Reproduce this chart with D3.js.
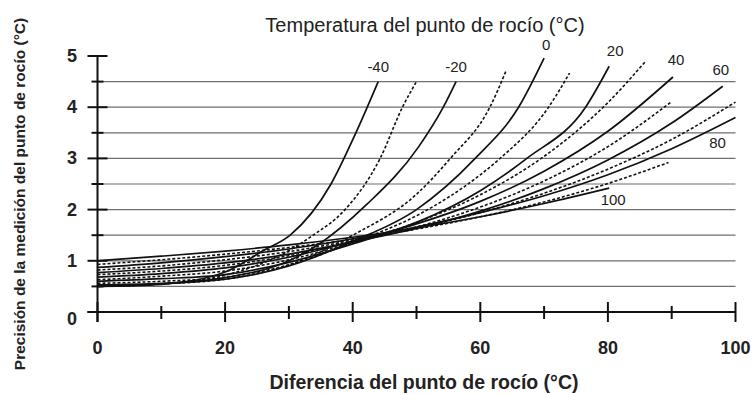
<!DOCTYPE html>
<html>
  <head>
    <meta charset="utf-8">
    <title>Precisión del punto de rocío</title>
    <style>
      html, body { margin: 0; padding: 0; background: #fff; }
      svg { display: block; font-family: "Liberation Sans", Arial, sans-serif; }
    </style>
  </head>
  <body>
    <script src="https://cdn.jsdelivr.net/npm/d3@7"></script>
    <div id="chart"></div>
    <script>

      // Dew point temperatures (one curve each), solid every 20, dashed in between
      var dewPoints = [-40, -30, -20, -10, 0, 10, 20, 30, 40, 50, 60, 70, 80, 90, 100]
      var labelTemps = [-40, -20, 0, 20, 40, 60, 80, 100]

      // [dew point difference, accuracy]
      var tdM40 = [[0,0.50],[10,0.54],[20,0.78],[26,1.2],[30.2,1.5],[36.6,2.5],[40.5,3.5],[44,4.5]]
      var tdM30 = [[0,0.50],[10,0.55],[20,0.72],[30,1.2],[33.8,1.5],[38.8,2.0],[44.3,3.0],[47.8,4.0],[50,4.5]]
      var tdM20 = [[0,0.50],[10,0.55],[20,0.67],[30,1.0],[34.4,1.3],[42.2,2.1],[50.3,3.22],[54.2,4.0],[56.2,4.5]]
      var tdM10 = [[0,0.51],[10,0.55],[20,0.64],[30,0.92],[40,1.5],[50,2.3],[55.3,3.0],[61.5,4.0],[64,4.7]]
      var td0   = [[0,0.53],[10,0.56],[20,0.64],[30,0.9],[40,1.38],[50,2.0],[59.2,3.0],[66,4.0],[70,4.96]]
      var td10  = [[0,0.56],[10,0.6],[20,0.68],[30,0.92],[40,1.36],[50,1.88],[60,2.68],[63.1,3.0],[70.7,4.0],[74,4.67]]
      var td20  = [[0,0.6],[10,0.65],[20,0.73],[30,0.97],[40,1.33],[50,1.75],[60,2.37],[67.3,3.0],[76.5,4.0],[80.2,4.8]]
      var td30  = [[0,0.63],[10,0.7],[20,0.8],[30,1.02],[40,1.36],[50,1.75],[60,2.29],[70,3.04],[80,4.09],[85.8,4.88]]
      var td40  = [[0,0.68],[10,0.75],[20,0.86],[30,1.07],[40,1.38],[50,1.72],[60,2.16],[70,2.75],[80,3.53],[90.2,4.59]]
      var td50  = [[0,0.73],[10,0.8],[20,0.91],[30,1.1],[40,1.37],[50,1.66],[60,2.05],[70,2.56],[80,3.23],[89.8,4.09]]
      var td60  = [[0,0.77],[10,0.85],[20,0.96],[30,1.13],[40,1.37],[50,1.63],[60,1.97],[70,2.41],[80,2.97],[90,3.69],[98,4.41]]
      var td70  = [[0,0.82],[10,0.9],[20,1.02],[30,1.18],[40,1.4],[50,1.64],[60,1.94],[70,2.32],[80,2.79],[90,3.37],[100,4.1]]
      var td80  = [[0,0.87],[10,0.96],[20,1.08],[30,1.23],[40,1.43],[50,1.66],[60,1.94],[70,2.27],[80,2.68],[90,3.19],[100,3.8]]
      var td90  = [[0,0.93],[10,1.02],[20,1.13],[30,1.26],[40,1.42],[50,1.62],[60,1.86],[70,2.15],[80,2.51],[89.5,2.92]]
      var td100 = [[0,1.0],[10,1.09],[20,1.19],[30,1.31],[40,1.46],[50,1.64],[60,1.86],[70,2.12],[80.2,2.42]]

      var curves = [tdM40, tdM30, tdM20, tdM10, td0, td10, td20, td30, td40, td50, td60, td70, td80, td90, td100]

      // Axis ticks
      var xMajor = [0, 20, 40, 60, 80, 100]
      var xMinor = [10, 30, 50, 70, 90]
      var yMajor = [0, 1, 2, 3, 4, 5]
      var gridVals = [0.5, 1, 1.5, 2, 2.5, 3, 3.5, 4, 4.5]

      var svg = d3.select("#chart")
        .append("svg")
        .attr("width", 752)
        .attr("height", 394)

      var x = d3.scaleLinear().domain([0, 100]).range([97.5, 735.5])
      var y = d3.scaleLinear().domain([0, 5]).range([312, 56])

      // Grid lines
      svg.append("g")
        .selectAll("line")
        .data(gridVals)
        .enter()
        .append("line")
        .attr("x1", x(0))
        .attr("x2", x(100))
        .attr("y1", function(d) { return y(d) })
        .attr("y2", function(d) { return y(d) })
        .attr("stroke", "#6f6f6f")
        .attr("stroke-width", 1.2)

      // Curves
      var line = d3.line()
        .x(function(d) { return x(d[0]) })
        .y(function(d) { return y(d[1]) })
        .curve(d3.curveMonotoneX)

      svg.append("g")
        .selectAll("path")
        .data(curves)
        .enter()
        .append("path")
        .attr("d", line)
        .attr("fill", "none")
        .attr("stroke", "#111")
        .attr("stroke-width", function(d, i) { return dewPoints[i] % 20 == 0 ? 1.7 : 1.6 })
        .attr("stroke-dasharray", function(d, i) { return dewPoints[i] % 20 == 0 ? null : "3,2" })

      // Curve labels, placed near the end of their curve
      var labelOffset = {"-40": [0, -10], "-20": [0, -10], "0": [2, -8], "20": [6, -10], "40": [3, -12],
                         "60": [-2, -11], "80": [-18, 31], "100": [4, 17]}

      svg.append("g")
        .selectAll("text")
        .data(labelTemps)
        .enter()
        .append("text")
        .attr("x", function(d) {
          var c = curves[dewPoints.indexOf(d)]
          return x(c[c.length - 1][0]) + labelOffset[d][0]
        })
        .attr("y", function(d) {
          var c = curves[dewPoints.indexOf(d)]
          return y(c[c.length - 1][1]) + labelOffset[d][1]
        })
        .attr("text-anchor", "middle")
        .style("font-size", "15px")
        .style("fill", "#222")
        .text(function(d) { return d })

      // Axes lines
      svg.append("line")
        .attr("x1", x(0)).attr("x2", x(0))
        .attr("y1", y(5)).attr("y2", y(0) + 10)
        .attr("stroke", "#111").attr("stroke-width", 2)

      svg.append("line")
        .attr("x1", x(0) - 10).attr("x2", x(100))
        .attr("y1", y(0)).attr("y2", y(0))
        .attr("stroke", "#111").attr("stroke-width", 2)

      // Y ticks
      svg.append("g")
        .selectAll("line")
        .data(yMajor)
        .enter()
        .append("line")
        .attr("x1", x(0) - 10).attr("x2", x(0) + 10)
        .attr("y1", function(d) { return y(d) }).attr("y2", function(d) { return y(d) })
        .attr("stroke", "#111").attr("stroke-width", 2)

      svg.append("g")
        .selectAll("line")
        .data(gridVals.filter(function(d) { return d % 1 != 0 }))
        .enter()
        .append("line")
        .attr("x1", x(0) - 6).attr("x2", x(0) + 6)
        .attr("y1", function(d) { return y(d) }).attr("y2", function(d) { return y(d) })
        .attr("stroke", "#111").attr("stroke-width", 2)

      // X ticks
      svg.append("g")
        .selectAll("line")
        .data(xMajor)
        .enter()
        .append("line")
        .attr("x1", function(d) { return x(d) }).attr("x2", function(d) { return x(d) })
        .attr("y1", y(0) - 10).attr("y2", y(0) + 10)
        .attr("stroke", "#111").attr("stroke-width", 2)

      svg.append("g")
        .selectAll("line")
        .data(xMinor)
        .enter()
        .append("line")
        .attr("x1", function(d) { return x(d) }).attr("x2", function(d) { return x(d) })
        .attr("y1", y(0) - 6).attr("y2", y(0) + 7)
        .attr("stroke", "#111").attr("stroke-width", 2)

      // Tick labels
      svg.append("g")
        .selectAll("text")
        .data(yMajor)
        .enter()
        .append("text")
        .attr("x", 72)
        .attr("y", function(d) { return d == 0 ? y(d) + 13 : y(d) + 6 })
        .attr("text-anchor", "middle")
        .style("font-size", "18px")
        .style("font-weight", "bold")
        .style("fill", "#222")
        .text(function(d) { return d })

      svg.append("g")
        .selectAll("text")
        .data(xMajor)
        .enter()
        .append("text")
        .attr("x", function(d) { return x(d) })
        .attr("y", 354)
        .attr("text-anchor", "middle")
        .style("font-size", "18px")
        .style("font-weight", "bold")
        .style("fill", "#222")
        .text(function(d) { return d })

      // Titles
      svg.append("text")
        .attr("x", 425)
        .attr("y", 32)
        .attr("text-anchor", "middle")
        .style("font-size", "20px")
        .style("fill", "#222")
        .text("Temperatura del punto de rocío (°C)")

      svg.append("text")
        .attr("x", 424)
        .attr("y", 389)
        .attr("text-anchor", "middle")
        .style("font-size", "19.5px")
        .style("font-weight", "bold")
        .style("fill", "#222")
        .text("Diferencia del punto de rocío (°C)")

      svg.append("text")
        .attr("transform", "translate(25, 194) rotate(-90)")
        .attr("text-anchor", "middle")
        .style("font-size", "15.5px")
        .style("font-weight", "bold")
        .style("fill", "#222")
        .text("Precisión de la medición del punto de rocío (°C)")

    </script>
  </body>
</html>
